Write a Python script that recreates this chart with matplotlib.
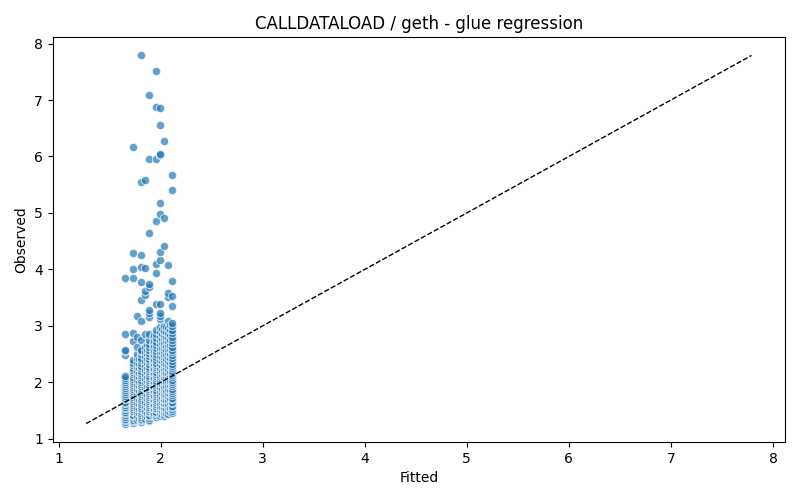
import matplotlib
matplotlib.use("Agg")
import matplotlib.pyplot as plt

# Fitted value levels (columns) and the observed values read for each column
fitted_levels = [1.65, 1.725, 1.765, 1.785, 1.805, 1.845, 1.865, 1.885, 1.925, 1.94,
                 1.955, 1.99, 2.01, 2.03, 2.05, 2.07, 2.09, 2.11]

obs_165 = [1.27, 1.30, 1.33, 1.36, 1.39, 1.42, 1.45, 1.48, 1.51, 1.54, 1.57, 1.60, 1.63, 1.66,
           1.70, 1.73, 1.76, 1.80, 1.83, 1.86, 1.90, 1.93, 1.97, 2.00, 2.04, 2.08, 2.12,
           2.49, 2.55, 2.58, 2.86, 3.84]
obs_1725 = [1.28, 1.31, 1.34, 1.37, 1.40, 1.43, 1.47, 1.50, 1.53, 1.57, 1.60, 1.63, 1.67, 1.70,
            1.74, 1.77, 1.81, 1.84, 1.88, 1.91, 1.95, 1.98, 2.02, 2.06, 2.10, 2.14, 2.18, 2.22,
            2.26, 2.30, 2.35, 2.40, 2.74, 2.88, 3.84, 4.01, 4.29, 6.16]
obs_1765 = [1.34, 1.40, 1.48, 1.55, 1.63, 1.72, 1.80, 1.88, 1.96, 2.05, 2.12, 2.20, 2.28,
            2.35, 2.43, 2.50, 2.62, 2.80, 3.17]
obs_1785 = [1.36, 1.45, 1.53, 1.61, 1.69, 1.77, 1.85, 1.93, 2.01, 2.09, 2.17, 2.25, 2.33, 2.41]
obs_1805 = [1.30, 1.33, 1.36, 1.39, 1.42, 1.45, 1.49, 1.52, 1.55, 1.59, 1.62, 1.65, 1.69, 1.72,
            1.76, 1.79, 1.83, 1.86, 1.90, 1.93, 1.97, 2.01, 2.05, 2.09, 2.13, 2.17, 2.21, 2.25,
            2.29, 2.34, 2.39, 2.44, 2.50, 2.55, 2.58, 2.75, 3.08, 3.46, 3.77, 4.05, 4.26, 5.54, 7.79]
obs_1845 = [1.36, 1.42, 1.50, 1.58, 1.66, 1.74, 1.82, 1.90, 1.98, 2.06, 2.14, 2.22, 2.30,
            2.38, 2.46, 2.54, 2.62, 2.86, 3.55, 3.61, 4.03, 5.59]
obs_1865 = [1.38, 1.46, 1.54, 1.62, 1.70, 1.78, 1.86, 1.94, 2.02, 2.10, 2.18, 2.26, 2.34,
            2.42, 2.50, 2.58, 2.66]
obs_1885 = [1.31, 1.34, 1.37, 1.40, 1.43, 1.47, 1.50, 1.53, 1.57, 1.60, 1.64, 1.67, 1.71, 1.74,
            1.78, 1.81, 1.85, 1.88, 1.92, 1.96, 2.00, 2.04, 2.08, 2.12, 2.16, 2.20, 2.24, 2.28,
            2.32, 2.37, 2.42, 2.47, 2.52, 2.57, 2.62, 2.68, 2.75, 2.85, 3.15, 3.23, 3.29, 3.69,
            3.75, 4.65, 5.96, 7.09]
obs_1925 = [1.42, 1.48, 1.55, 1.62, 1.70, 1.78, 1.86, 1.94, 2.02, 2.10, 2.18, 2.26, 2.34,
            2.42, 2.50, 2.60, 2.70, 2.80]
obs_194 = [1.44, 1.52, 1.60, 1.68, 1.76, 1.84, 1.92, 2.00, 2.08, 2.16, 2.24, 2.32, 2.40,
           2.48, 2.56, 2.64, 2.74, 2.84]
obs_1955 = [1.39, 1.42, 1.45, 1.48, 1.52, 1.55, 1.58, 1.62, 1.65, 1.69, 1.72, 1.76, 1.79, 1.83,
            1.87, 1.91, 1.95, 1.99, 2.03, 2.07, 2.11, 2.15, 2.19, 2.23, 2.27, 2.31, 2.35, 2.40,
            2.45, 2.50, 2.55, 2.60, 2.66, 2.72, 2.78, 2.85, 2.93, 3.39, 3.93, 4.10, 4.86, 5.95,
            6.88, 7.52]
obs_199 = [1.41, 1.46, 1.52, 1.58, 1.64, 1.70, 1.77, 1.84, 1.91, 1.98, 2.05, 2.12, 2.19,
           2.26, 2.33, 2.40, 2.47, 2.54, 2.61, 2.68, 2.75, 2.82, 2.90, 2.98, 3.12, 3.18, 3.23,
           3.39, 4.17, 4.31, 4.99, 5.18, 6.02, 6.04, 6.56, 6.85]
obs_201 = [1.43, 1.50, 1.57, 1.65, 1.73, 1.81, 1.89, 1.97, 2.05, 2.13, 2.21, 2.29, 2.37,
           2.45, 2.53, 2.61, 2.69, 2.77, 2.86, 2.95]
obs_203 = [1.41, 1.44, 1.47, 1.51, 1.54, 1.57, 1.61, 1.64, 1.68, 1.71, 1.75, 1.78, 1.82, 1.86,
           1.90, 1.94, 1.98, 2.02, 2.06, 2.10, 2.14, 2.18, 2.22, 2.26, 2.30, 2.35, 2.40, 2.45,
           2.50, 2.55, 2.60, 2.66, 2.72, 2.78, 2.84, 2.91, 2.99, 4.42, 4.91, 6.28]
obs_205 = [1.45, 1.53, 1.61, 1.69, 1.77, 1.85, 1.93, 2.01, 2.09, 2.17, 2.25, 2.33, 2.41,
           2.49, 2.57, 2.65, 2.73, 2.81, 2.90, 2.98]
obs_207 = [1.44, 1.50, 1.56, 1.62, 1.68, 1.75, 1.82, 1.89, 1.96, 2.03, 2.10, 2.17, 2.24,
           2.31, 2.38, 2.45, 2.52, 2.59, 2.66, 2.73, 2.80, 2.88, 2.96, 3.08, 3.52, 3.58, 4.07]
obs_209 = [1.47, 1.55, 1.63, 1.71, 1.79, 1.87, 1.95, 2.03, 2.11, 2.19, 2.27, 2.35, 2.43,
           2.51, 2.59, 2.67, 2.75, 2.84, 2.93, 3.02]
obs_211 = [1.46, 1.49, 1.52, 1.56, 1.59, 1.63, 1.66, 1.70, 1.73, 1.77, 1.81, 1.85, 1.89, 1.93,
           1.97, 2.01, 2.05, 2.09, 2.13, 2.17, 2.21, 2.25, 2.29, 2.33, 2.38, 2.43, 2.48, 2.53,
           2.58, 2.63, 2.69, 2.75, 2.81, 2.87, 2.93, 2.99, 3.05, 3.35, 3.53, 3.80, 5.40, 5.68]

observed_by_level = [obs_165, obs_1725, obs_1765, obs_1785, obs_1805, obs_1845, obs_1865,
                     obs_1885, obs_1925, obs_194, obs_1955, obs_199, obs_201, obs_203,
                     obs_205, obs_207, obs_209, obs_211]

fitted = []
observed = []
for lvl, vals in zip(fitted_levels, observed_by_level):
    fitted.extend([lvl] * len(vals))
    observed.extend(vals)

fig = plt.figure(figsize=(8, 5), dpi=100)
ax = fig.add_axes([0.066, 0.116, 0.915, 0.81])

ax.scatter(fitted, observed, s=36, color="#1f77b4", alpha=0.7,
           edgecolors="white", linewidths=0.75, zorder=2)

lo = min(min(fitted), min(observed))
hi = max(max(fitted), max(observed))
ax.plot([lo, hi], [lo, hi], color="black", linestyle="--", linewidth=1, zorder=3)

ax.set_title("CALLDATALOAD / geth - glue regression", fontsize=12)
ax.set_xlabel("Fitted")
ax.set_ylabel("Observed")

fig.savefig("out.png", dpi=100)
